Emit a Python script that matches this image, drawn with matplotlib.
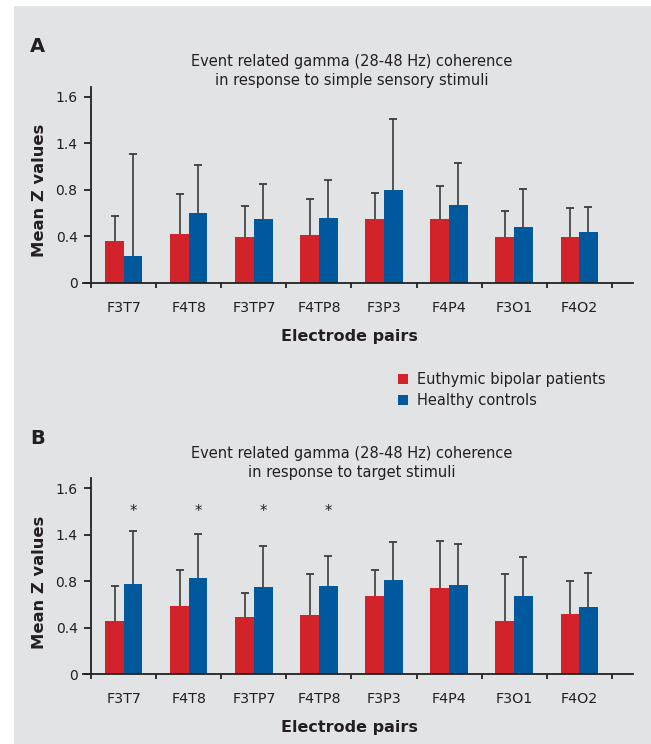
import numpy as np
import matplotlib
matplotlib.use('Agg')
import matplotlib.pyplot as plt
from matplotlib.patches import Rectangle

plt.rcParams['font.family'] = 'DejaVu Sans'

pairs = ['F3T7', 'F4T8', 'F3TP7', 'F4TP8', 'F3P3', 'F4P4', 'F3O1', 'F4O2']
groups = ['Euthymic bipolar patients', 'Healthy controls']

# panel A: simple sensory stimuli (mean and top of error bar)
a_bipolar = [0.36, 0.42, 0.39, 0.41, 0.55, 0.55, 0.39, 0.39]
a_bipolar_top = [0.57, 0.76, 0.66, 0.72, 0.77, 0.83, 0.62, 0.64]
a_control = [0.23, 0.60, 0.55, 0.56, 0.80, 0.67, 0.48, 0.44]
a_control_top = [1.11, 1.01, 0.85, 0.88, 1.41, 1.03, 0.81, 0.65]

# panel B: target stimuli
b_bipolar = [0.46, 0.59, 0.49, 0.51, 0.67, 0.74, 0.46, 0.52]
b_bipolar_top = [0.76, 0.90, 0.70, 0.86, 0.90, 1.15, 0.86, 0.80]
b_control = [0.78, 0.83, 0.75, 0.76, 0.81, 0.77, 0.67, 0.58]
b_control_top = [1.23, 1.21, 1.10, 1.02, 1.14, 1.12, 1.01, 0.87]
b_signif = [True, True, True, True, False, False, False, False]

yticks = [0, 0.4, 0.8, 1.2, 1.6]
ytick_labels = ['0', '0.4', '0.8', '1.4', '1.6']

red = '#d2232a'
blue = '#00599d'
bg = '#e2e3e5'
txt = '#231f20'

W, H = 651, 744
fig = plt.figure(figsize=(W/100, H/100), dpi=100)
fig.patches.append(Rectangle((14/W, 0), 1, 1 - 6/H, transform=fig.transFigure,
                             facecolor=bg, edgecolor='none', zorder=-10))


def panel(rect, bip, bip_top, ctl, ctl_top, letter, title, signif=None):
    ax = fig.add_axes(rect)
    ax.set_facecolor('none')
    x = np.arange(len(pairs)) + 0.5
    w = 0.285
    # upper-only error bars with a small cap
    for xs, lo, hi in [(x - w/2, bip, bip_top), (x + w/2, ctl, ctl_top)]:
        ax.vlines(xs, lo, hi, color='#3c3c3c', lw=1.2, zorder=1)
        ax.plot(xs, hi, ls='none', marker='_', ms=5.5, mew=1.3, color='#3c3c3c', zorder=1)
    b1 = ax.bar(x - w/2, bip, w, color=red, zorder=2, label=groups[0])
    b2 = ax.bar(x + w/2, ctl, w, color=blue, zorder=2, label=groups[1])
    if signif is not None:
        for xi, s in zip(x, signif):
            if s:
                ax.text(xi + w/2, 1.40, '*', ha='center', va='center', fontsize=10.5, color=txt)

    ax.set_xlim(-0.13, 8.33)
    ax.set_ylim(0, 1.686)
    for s in ['top', 'right']:
        ax.spines[s].set_visible(False)
    ax.spines['left'].set_position(('data', 0))
    ax.spines['left'].set_bounds(0, 1.686)
    for s in ['left', 'bottom']:
        ax.spines[s].set_linewidth(1.3)
        ax.spines[s].set_color('#222222')
    ax.set_yticks(yticks)
    ax.set_yticklabels(ytick_labels)
    ax.tick_params(axis='y', direction='out', length=5, width=1.3, pad=5,
                   labelsize=10, labelcolor=txt, color='#222222')
    ax.set_xticks(np.arange(len(pairs) + 1))
    ax.set_xticklabels([])
    ax.tick_params(axis='x', which='major', direction='out', length=3.5, width=1.3, color='#222222')
    ax.set_xticks(x, minor=True)
    ax.set_xticklabels(pairs, minor=True)
    ax.tick_params(axis='x', which='minor', length=0, pad=13, labelsize=10.3, labelcolor=txt)

    ax.set_ylabel('Mean Z values', fontsize=11.8, fontweight='bold', color=txt)
    ax.yaxis.set_label_coords(-0.079, 0.469)
    ax.yaxis.label.set_va('center')
    ax.set_xlabel('Electrode pairs', fontsize=11.5, fontweight='bold', color=txt)
    ax.xaxis.set_label_coords(0.485, -0.272)
    ax.xaxis.label.set_va('center')

    ax.text(0.4885, 1.08, title, transform=ax.transAxes, ha='center', va='center',
            fontsize=10.5, linespacing=1.35, color=txt)
    ax.text(-0.083, 1.203, letter, transform=ax.transAxes, ha='center', va='center',
            fontsize=14, fontweight='bold', color=txt)
    return ax, b1, b2


axA, h1, h2 = panel([83/W, 1 - 282.7/H, 550/W, 196/H], a_bipolar, a_bipolar_top,
                    a_control, a_control_top, 'A',
                    'Event related gamma (28-48 Hz) coherence\nin response to simple sensory stimuli')
axB, _, _ = panel([83/W, 1 - 674.3/H, 550/W, 196/H], b_bipolar, b_bipolar_top,
                  b_control, b_control_top, 'B',
                  'Event related gamma (28-48 Hz) coherence\nin response to target stimuli',
                  signif=b_signif)

fig.legend([h1, h2], groups, loc='center left', bbox_to_anchor=(398/W, 1 - 390/H),
           frameon=False, fontsize=10.5, handlelength=0.68, handleheight=0.68,
           handletextpad=0.6, borderpad=0, borderaxespad=0, labelspacing=0.45,
           labelcolor=txt)

fig.savefig('out.png', dpi=100)
